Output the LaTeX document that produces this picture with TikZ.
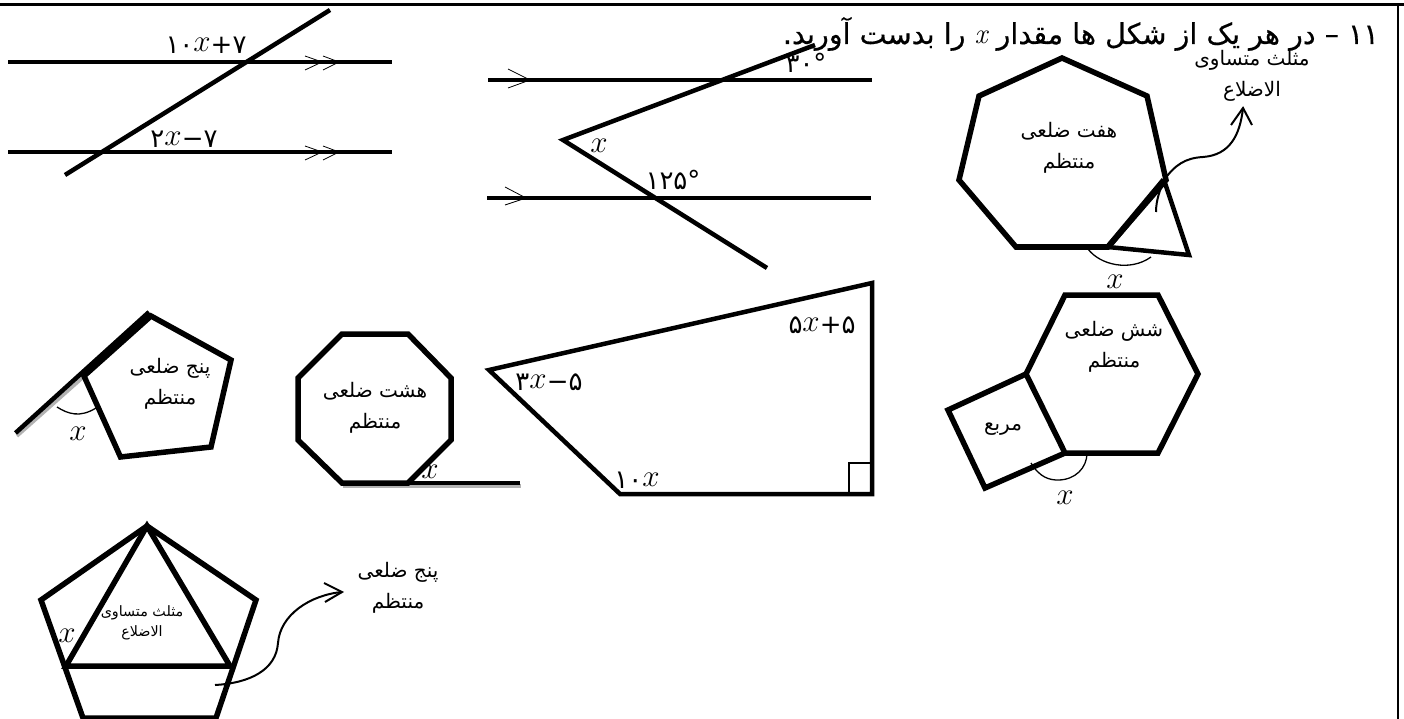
\documentclass[tikz,border=0pt]{standalone}
\usepackage{fontspec}
\TeXXeTstate=1
\newfontfamily\fa[Script=Arabic]{DejaVu Sans}
\newfontfamily\fabf[Script=Arabic,FakeBold=0.5]{DejaVu Sans}
\newfontfamily\fad{DejaVu Sans}
\newcommand{\rl}[1]{\beginR #1\endR}
\newcommand{\vx}{\raisebox{2pt}{\scalebox{1.25}{$x$}}}
\tikzset{
 thick4/.style={line width=4.5pt,line join=miter,line cap=butt},
 thick5/.style={line width=5.5pt,line join=miter},
 thin1/.style={line width=1.3pt},
 curvy/.style={line width=2pt},
 chev/.style={line width=0.8pt},
 lab/.style={inner sep=0pt,align=center,font=\fontsize{20}{31}\selectfont\fa},
 labsm/.style={inner sep=0pt,align=center,font=\fontsize{14.3}{20}\selectfont\fa},
 num/.style={inner sep=0pt,font=\fontsize{26}{28}\selectfont\fad},
 xv/.style={inner sep=0pt,font=\fontsize{24.88}{28}\selectfont},
 shadowline/.style={line width=3.5pt,black!30}
}
\begin{document}
\begin{tikzpicture}[x=1pt,y=-1pt]
\useasboundingbox (0,0) rectangle (1404,719);
\fill[white] (0,0) rectangle (1404,719);
% frame
\draw[line width=3pt] (0,5) -- (1404,5);
\draw[line width=2.5pt] (1398,5) -- (1398,719);
% title
\node[inner sep=0pt,anchor=east,font=\fontsize{28.6}{32}\selectfont\fabf] (title) at (1379,34)
 {\rl{۱۱ – در هر یک از شکل ها مقدار {\normalfont\itshape x} را بدست آورید.}};
% figure 1
\draw[thick4] (8,62) -- (392,62);
\draw[thick4] (8,152) -- (392,152);
\draw[thick4] (65,175) -- (330,10);
\draw[chev] (305,56) -- (322,62) -- (305,70);
\draw[chev] (323,56) -- (339,62) -- (323,70);
\draw[chev] (305,146) -- (322,152) -- (305,160);
\draw[chev] (323,146) -- (339,152) -- (323,160);
\node[num] (a1) at (206,45) {۱۰\vx+۷};
\node[num] (a2) at (184,139) {۲\vx−۷};
% figure 2
\draw[thick4] (488,80) -- (872,80);
\draw[thick4] (487,198) -- (871,198);
\draw[thick4,miter limit=20] (815,45) -- (563,140) -- (767,268);
\draw[chev] (508,69) -- (530,80) -- (508,88);
\draw[chev] (505,187) -- (526,198) -- (505,205);
\node[num] (b1) at (806,63) {۳۰°};
\node[xv] (b2) at (599,147) {\vx};
\node[num] (b3) at (673,180) {۱۲۵°};
% heptagon
\draw[thick5] (1062,58) -- (1147,96) -- (1166,180) -- (1108,247) -- (1016,247) -- (959,180) -- (979,96) -- cycle;
\draw[thick4] (1108,247) -- (1189,255) -- (1164,180);
\draw[line width=6pt] (1108,247) -- (1164,180);
\draw[curvy] (1156,212) .. controls (1156,200) and (1160,190) .. (1164,180) .. controls (1175,165) and (1185,158) .. (1203,157) .. controls (1230,155) and (1240,135) .. (1243,108);
\draw[curvy] (1231,125) -- (1243,108) -- (1252,125);
\draw[thin1] (1088,249) .. controls (1100,265) and (1130,272) .. (1151,257);
\node[xv] (h1) at (1115,283) {\vx};
\node[lab] (h2) at (1069,148) {\rl{هفت ضلعی}\\\rl{منتظم}};
\node[lab] (h3) at (1252,76) {\rl{مثلث متساوی}\\\rl{الاضلاع}};
% hexagon + square
\draw[thick5] (1065,295) -- (1158,295) -- (1198,374) -- (1158,453) -- (1065,453) -- (1026,374) -- cycle;
\draw[thick5] (1026,374) -- (948,410) -- (985,488) -- (1065,453);
\draw[thin1] (1031,463) .. controls (1040,478) and (1050,480) .. (1058,480) .. controls (1075,480) and (1087,468) .. (1087,453);
\node[xv] (s1) at (1065,499) {\vx};
\node[lab] (s2) at (1114,347) {\rl{شش ضلعی}\\\rl{منتظم}};
\node[lab] (s3) at (1003,429) {\rl{مربع}};
% pentagon 1
\draw[shadowline] (17,436) -- (152,316);
\draw[thick4] (15.5,433) -- (149,312);
\draw[thick5] (151,316) -- (231,360) -- (211,447) -- (120.5,457) -- (84,376) -- cycle;
\draw[thin1] (57,407) .. controls (68,414) and (80,418) .. (96,408);
\node[xv] (p1) at (78,435) {\vx};
\node[lab] (p2) at (170,384) {\rl{پنج ضلعی}\\\rl{منتظم}};
% octagon
\draw[shadowline] (343,486) -- (521,486);
\draw[thick5] (342,334) -- (408,334) -- (451,378) -- (451,440) -- (408,483) -- (342,483) -- (298,440) -- (298,378) -- cycle;
\draw[thick4] (342,483) -- (520,483);
\node[xv] (o1) at (430,473) {\vx};
\node[lab] (o2) at (375,408) {\rl{هشت ضلعی}\\\rl{منتظم}};
% trapezoid
\draw[thick4] (489,370) -- (872,283) -- (872,494) -- (620,494) -- cycle;
\draw[line width=1.4pt] (849,494) -- (849,463) -- (872,463);
\node[num] (t1) at (822,325) {۵\vx+۵};
\node[num] (t2) at (549,382) {۳\vx−۵};
\node[num] (t3) at (637,480) {۱۰\vx};
% bottom pentagon
\draw[thick5] (147,526) -- (256,600) -- (216,718) -- (83,718) -- (41,600) -- cycle;
\draw[thick5] (147,526) -- (230,666) -- (66,666) -- cycle;
\draw[curvy] (215,685) .. controls (250,683) and (276,670) .. (278,643) .. controls (280,615) and (310,595) .. (342,592);
\draw[curvy] (324,583) -- (342,592) -- (325,602);
\node[xv] (q1) at (67,637) {\vx};
\node[labsm] (q2) at (142,623) {\rl{مثلث متساوی}\\\rl{الاضلاع}};
\node[lab] (q3) at (398,588) {\rl{پنج ضلعی}\\\rl{منتظم}};
\end{tikzpicture}
\end{document}
